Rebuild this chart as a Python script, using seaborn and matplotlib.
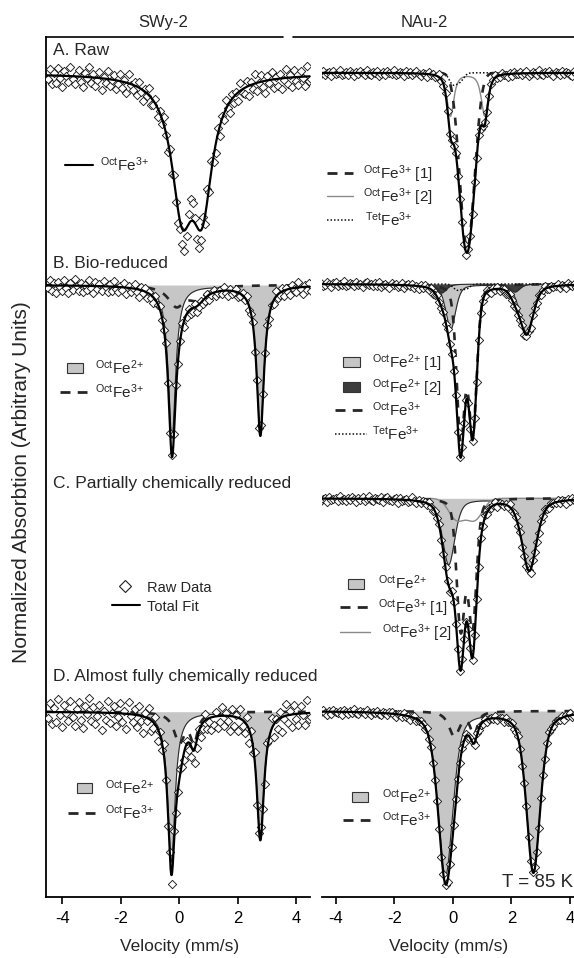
import numpy as np
import matplotlib
matplotlib.use("Agg")
import matplotlib.pyplot as plt
import seaborn as sns
from matplotlib.lines import Line2D
from matplotlib.patches import Rectangle

# ---------------- data ----------------
# Each fitted component: (line positions mm/s, half widths mm/s, depths arb., Lorentzian fraction)
SWY_RAW_OCT3 = ([0.09, 0.78], [0.43, 0.43], [121, 121], 1.0)

SWY_BIO_FE2 = ([-0.25, 2.77], [0.15, 0.15], [153, 150], 1.0)
SWY_BIO_OCT3 = ([-0.10, 0.60], [0.35, 0.35], [20, 12], 1.0)

SWY_CHEM_FE2 = ([-0.27, 2.77], [0.15, 0.15], [150, 128], 1.0)
SWY_CHEM_OCT3 = ([0.00, 0.50], [0.22, 0.15], [30, 28], 1.0)

NAU_RAW_OCT3_1 = ([0.38, 0.60], [0.26, 0.26], [99, 99], 0.0)
NAU_RAW_OCT3_2 = ([-0.08, 1.09], [0.14, 0.14], [43, 43], 0.8)
NAU_RAW_TET3 = ([0.00, 0.25], [0.15, 0.15], [11, 8], 0.0)

NAU_BIO_FE2_1 = ([-0.07, 2.52], [0.20, 0.27], [45, 49], 0.5)
NAU_BIO_FE2_2 = ([-0.39, 2.12], [0.20, 0.20], [9, 8], 0.5)
NAU_BIO_OCT3 = ([0.27, 0.68], [0.165, 0.165], [151, 145], 0.3)
NAU_BIO_TET3 = ([0.15, 0.45], [0.15, 0.15], [6, 5], 0.0)

NAU_PART_FE2 = ([-0.14, 2.61], [0.25, 0.30], [66, 72], 0.5)
NAU_PART_OCT3_1 = ([0.27, 0.67], [0.165, 0.165], [128, 126], 0.3)
NAU_PART_OCT3_2 = ([0.13, 0.75], [0.32, 0.32], [21, 21], 0.0)

NAU_CHEM_FE2 = ([-0.25, 2.75], [0.30, 0.28], [164, 161], 0.5)
NAU_CHEM_OCT3 = ([0.05, 0.72], [0.22, 0.15], [25, 22], 0.8)

# raw data: deviation of each channel from the total fit (arb., positive = more absorption)
SWY_RAW_RES = [4, -6, 9, -3, 7, -8, 2, 11, -5, 0, 6, -9, 3, 8, -2, -7,
               5, 10, -4, 1, -10, 6, -3, 8, 2, -6, 12, -1, 4, -8, 7, 0,
               -5, 9, 3, -7, 6, -2, 10, -9, 1, 5, -4, 8, -6, 3, 11, -3,
               2, -8, 7, 4, -5, 9, -1, 6, -7, 3, 10, -4, 8, -6, 5, 12,
               6, 15, 20, 8, -10, -22, -18, -5, 12, 18, 10, -8, 9, -12, 7, -9,
               5, 8, -7, 10, -4, 6, -9, 3, 11, -5, 7, -2, 9, -8, 4, 6,
               -6, 10, -3, 5, -9, 8, 1, -7, 6, 12, -4, 3, -8, 9, -2, 7,
               -5, 11, 2, -9, 6, -3, 10, -7, 4, 8, -6, 1, 9, -10, 5, 3]
SWY_BIO_RES = [3, -5, 6, -2, 8, -4, 1, 5, -6, 2, 7, -3, 4, -7, 0, 5,
               -3, 6, -1, 4, -6, 2, 7, -4, 3, -2, 5, -5, 1, 6, -3, 4,
               -6, 2, 5, -1, 3, -4, 6, -2, 4, 0, -5, 3, 7, -3, 2, -4,
               5, -2, 3, 6, -4, 1, -3, 4, 2, -5, 3, 5, -2, 4, -3, 6,
               2, -4, 8, 3, -2, 5, 4, -3, 6, 2, -1, 4, 3, -2, 5, 1,
               -3, 4, 2, -1, 3, -4, 2, 5, -2, 3, 1, -3, 4, 2, -2, 3,
               -4, 5, 1, -3, 6, -2, 3, -5, 4, 2, -3, 5, -1, 4, -6, 3,
               2, -4, 5, -2, 3, 6, -3, 1, 4, -5, 2, 7, -2, 3, -4, 5]
SWY_CHEM_RES = [6, -9, 12, -4, 10, -13, 3, 15, -7, 1, 9, -11, 5, 14, -3, -10,
                8, 16, -6, 2, -14, 9, -5, 11, 3, -8, 17, -2, 7, -12, 10, 0,
                -7, 13, 4, -10, 9, -3, 15, -12, 2, 8, -6, 12, -9, 5, 16, -4,
                3, -11, 10, 6, -8, 13, -2, 9, -10, 4, 14, -6, 11, -9, 7, 5,
                -4, 6, 10, -3, 8, 12, -5, 14, 9, -2, 11, 7, -6, 10, 4, 13,
                8, -4, 12, 6, -9, 10, -3, 5, 15, -7, 9, -2, 13, -10, 6, 11,
                -8, 14, -4, 7, -12, 11, 2, -9, 8, 16, -5, 4, -11, 12, -3, 9,
                -6, 15, 3, -12, 8, -4, 13, -9, 5, 11, -8, 2, 12, -13, 6, 4]
NAU_RAW_RES = [1, -2, 2, 0, -1, 3, -2, 1, 0, -3, 2, 1, -1, 2, -2, 0,
               3, -1, 1, -2, 0, 2, -3, 1, 2, -1, 0, -2, 3, 1, -1, 2,
               -2, 0, 1, -3, 2, 1, -1, 0, 3, -2, 1, -1, 2, 0, -2, 1,
               2, -1, 0, 3, -2, 1, -1, 2, 0, -3, 1, 2, -1, 0, 2, -2,
               1, -1, 2, 0, -2, 1, 3, -1, 0, 2, -2, 1, -1, 3, 0, -2,
               2, 1, -1, 0, -3, 2, 1, -2, 0, 1, 3, -1, 2, -2, 0, 1,
               -1, 2, 0, -2, 3, 1, -1, 0, 2, -3, 1, 2, -1, 0, -2, 1,
               3, -1, 0, 2, -2, 1, -1, 0, 2, 3, -2, 1, 0, -1, 2, -2]
NAU_BIO_RES = [-1, 2, 1, -2, 0, 3, -1, -2, 2, 0, 1, -3, 2, 1, -1, 0,
               2, -2, 1, 0, 3, -1, -2, 1, 0, 2, -1, 1, -3, 2, 0, -1,
               1, 3, -2, 0, -1, 2, 1, -2, 3, 0, -1, 1, -2, 2, 0, 3,
               -1, 1, -2, 0, 2, -1, 3, 1, -2, 0, 1, -1, 2, -3, 1, 0,
               2, -1, 0, 1, -2, 3, 0, -1, 2, 1, -3, 2, 0, -1, 1, 2,
               -2, 0, 3, -1, 1, -2, 2, 0, -1, 3, 1, -2, 0, 2, -1, 1,
               0, -2, 2, 1, -1, 3, -2, 0, 1, -1, 2, 0, -3, 1, 2, -1,
               1, 0, -2, 2, -1, 1, 3, -2, 0, 1, -1, 2, 0, -2, 1, 3]
NAU_PART_RES = [2, 0, -1, 3, -2, 1, 0, -1, 2, -3, 1, 0, 2, -1, 1, -2,
                0, 3, -1, 1, -2, 2, 0, -3, 1, 2, -1, 0, 1, -2, 3, -1,
                -2, 1, 2, 0, -1, 3, -2, 1, 0, -1, 2, 1, -3, 0, 2, -1,
                1, -1, 0, 2, -2, 1, 3, -1, 0, -2, 2, 1, -1, 0, 3, -2,
                0, 2, -1, 1, -3, 2, 0, 1, -1, 2, -2, 0, 3, -1, 1, -2,
                2, -1, 1, 0, -2, 3, -1, 0, 2, -1, 1, -3, 2, 0, -1, 1,
                -2, 2, 0, 1, -1, 3, -2, 0, 1, 2, -1, 0, -2, 1, 3, -1,
                0, 1, -2, 2, -1, 0, 3, -1, 1, -2, 0, 2, -1, 1, -3, 2]
NAU_CHEM_RES = [0, -2, 1, 3, -1, 2, -2, 0, 1, -1, 3, -2, 0, 2, -1, 1,
                -3, 1, 2, -1, 0, 2, -2, 1, 3, -1, 0, -2, 1, 2, -1, 0,
                2, -1, -2, 1, 3, 0, -1, 2, -2, 1, 0, 3, -1, -2, 2, 1,
                -1, 0, 2, -3, 1, -1, 2, 0, -2, 1, 3, -1, 0, 2, -2, 1,
                1, -2, 0, 2, -1, 3, -2, 1, 0, -1, 2, -3, 1, 0, 2, -1,
                3, 0, -1, 1, -2, 2, 0, -1, 3, -2, 1, 0, -1, 2, 1, -2,
                0, 2, -1, -3, 1, 2, 0, -2, 1, 3, -1, 0, 2, -1, -2, 1,
                2, -1, 0, 1, -2, 3, -1, 0, -2, 2, 1, -1, 0, 3, -2, 1]

COLUMN_TITLES = ["SWy-2", "NAu-2"]
PANEL_TITLES = ["A. Raw", "B. Bio-reduced", "C. Partially chemically reduced",
                "D. Almost fully chemically reduced"]
X_TICKS = [-4, -2, 0, 2, 4]
OCT3 = r"$^{Oct}$Fe$^{3{+}}$"
OCT2 = r"$^{Oct}$Fe$^{2{+}}$"
TET3 = r"$^{Tet}$Fe$^{3{+}}$"

# ---------------- style ----------------
sns.set_style("white")
plt.rcParams["font.family"] = ["Liberation Sans", "DejaVu Sans"]
plt.rcParams["mathtext.fontset"] = "custom"
plt.rcParams["mathtext.rm"] = "Liberation Sans"
plt.rcParams["mathtext.it"] = "Liberation Sans:italic"
plt.rcParams["mathtext.bf"] = "Liberation Sans:bold"
plt.rcParams["mathtext.default"] = "regular"
plt.rcParams["axes.unicode_minus"] = False
plt.rcParams["axes.edgecolor"] = "black"

W, H = 574, 958
fig = plt.figure(figsize=(W / 100, H / 100), dpi=100)


def fx(x):
    return x / W


def fy(y):
    return 1 - y / H


AX_TOP, AX_BOT = 37, 897
axL = fig.add_axes([fx(46), fy(AX_BOT), (310 - 46) / W, (AX_BOT - AX_TOP) / H])
axR = fig.add_axes([fx(321.7), fy(AX_BOT), (574 - 321.7) / W, (AX_BOT - AX_TOP) / H])
axL.set_xlim(-4.557, 4.468)
axR.set_xlim(-4.476, 4.138)

FILL = {"light": "#c6c6c6", "dark": "#3d3d3d"}
DASH_LS = (0, (3.0, 3.4))
DOT_LS = (0, (1.0, 1.3))

v_fine = np.linspace(-4.6, 4.6, 1500)


def profile(v, comp):
    pos, hw, dep, eta = comp
    out = np.zeros_like(v, dtype=float)
    for p, w, d in zip(pos, hw, dep):
        x = (v - p) / w
        out += d * (eta / (1 + x ** 2) + (1 - eta) * np.exp(-np.log(2) * x ** 2))
    return out


def draw_panel(ax, base_px, comps, resid):
    base = AX_BOT - base_px
    total = sum(profile(v_fine, c) for c, s in comps)
    for c, s in comps:
        prof = profile(v_fine, c)
        if s in ("light", "dark"):
            ax.fill_between(v_fine, base, base - prof, color=FILL[s], lw=0,
                            zorder=1 if s == "light" else 1.5)
            sns.lineplot(x=v_fine, y=base - prof, ax=ax, color="#2a2a2a", lw=0.8,
                         estimator=None, sort=False, zorder=1.6)
        elif s == "dash":
            sns.lineplot(x=v_fine, y=base - prof, ax=ax, color="#262626", lw=1.9,
                         linestyle=DASH_LS, estimator=None, sort=False, zorder=2.5)
        elif s == "thin":
            sns.lineplot(x=v_fine, y=base - prof, ax=ax, color="#8a8a8a", lw=1.0,
                         estimator=None, sort=False, zorder=2.4)
        elif s == "dot":
            sns.lineplot(x=v_fine, y=base - prof, ax=ax, color="#111111", lw=1.1,
                         linestyle=DOT_LS, estimator=None, sort=False, zorder=2.6)
    v_ch = np.linspace(-4.5, 4.5, len(resid))
    tot_ch = sum(profile(v_ch, c) for c, s in comps)
    y_ch = base - tot_ch - np.asarray(resid, dtype=float)
    sns.scatterplot(x=v_ch, y=y_ch, ax=ax, marker="D", s=18, color="white",
                    edgecolor="#1e1e1e", linewidth=0.65, zorder=3, legend=False)
    sns.lineplot(x=v_fine, y=base - total, ax=ax, color="black", lw=1.6,
                 estimator=None, sort=False, zorder=4)


# left column (SWy-2)
draw_panel(axL, 73.5, [(SWY_RAW_OCT3, "none")], SWY_RAW_RES)
draw_panel(axL, 285, [(SWY_BIO_FE2, "light"), (SWY_BIO_OCT3, "dash")], SWY_BIO_RES)
draw_panel(axL, 711.7, [(SWY_CHEM_FE2, "light"), (SWY_CHEM_OCT3, "dash")], SWY_CHEM_RES)

# right column (NAu-2)
draw_panel(axR, 72.8, [(NAU_RAW_OCT3_1, "dash"), (NAU_RAW_OCT3_2, "thin"),
                       (NAU_RAW_TET3, "dot")], NAU_RAW_RES)
draw_panel(axR, 284, [(NAU_BIO_FE2_1, "light"), (NAU_BIO_FE2_2, "dark"),
                      (NAU_BIO_OCT3, "dash"), (NAU_BIO_TET3, "dot")], NAU_BIO_RES)
draw_panel(axR, 498.3, [(NAU_PART_FE2, "light"), (NAU_PART_OCT3_1, "dash"),
                        (NAU_PART_OCT3_2, "thin")], NAU_PART_RES)
draw_panel(axR, 711, [(NAU_CHEM_FE2, "light"), (NAU_CHEM_OCT3, "dash")], NAU_CHEM_RES)

for ax in (axL, axR):
    ax.set_ylim(0, AX_BOT - AX_TOP)
    ax.set_yticks([])
    ax.set_xticks(X_TICKS)
    ax.set_xticklabels([str(t) for t in X_TICKS])
    ax.tick_params(axis="x", direction="out", length=5, width=1.2, labelsize=12,
                   pad=5, colors="black", bottom=True)
    ax.spines["top"].set_visible(False)
    ax.spines["right"].set_visible(False)
    ax.spines["bottom"].set_linewidth(1.3)
    ax.set_xlabel("")
    ax.set_ylabel("")
    ax.patch.set_alpha(0)
axL.spines["left"].set_linewidth(1.3)
axR.spines["left"].set_visible(False)

# header
fig.add_artist(Line2D([fx(46), fx(283)], [fy(AX_TOP)] * 2, color="black", lw=1.2))
fig.add_artist(Line2D([fx(293), fx(574)], [fy(AX_TOP)] * 2, color="black", lw=1.2))
fig.text(fx(163), fy(22.5), COLUMN_TITLES[0], fontsize=12, ha="center", va="center")
fig.text(fx(424), fy(22.5), COLUMN_TITLES[1], fontsize=12, ha="center", va="center")

for title, ybase in zip(PANEL_TITLES, [55, 268, 488, 681]):
    fig.text(fx(53), fy(ybase), title, fontsize=12.5, va="baseline", ha="left")

fig.text(fx(22), fy(482), "Normalized Absorbtion (Arbitrary Units)", rotation=90,
         fontsize=15, ha="center", va="center")
fig.text(fx(179.5), fy(947), "Velocity (mm/s)", fontsize=12.5, ha="center", va="center")
fig.text(fx(449), fy(947), "Velocity (mm/s)", fontsize=12.5, ha="center", va="center")
fig.text(fx(573), fy(887), "T = 85 K", fontsize=13.5, ha="right", va="baseline")


def legend_entry(kind, x0, x1, yc, tx, label, fs=11):
    if kind == "solid":
        fig.add_artist(Line2D([fx(x0), fx(x1)], [fy(yc)] * 2, color="black", lw=1.5))
    elif kind == "dash":
        fig.add_artist(Line2D([fx(x0), fx(x1)], [fy(yc)] * 2, color="#262626", lw=2.0,
                              linestyle=(0, (3.6, 2.6))))
    elif kind == "thin":
        fig.add_artist(Line2D([fx(x0), fx(x1)], [fy(yc)] * 2, color="#8a8a8a", lw=1.0))
    elif kind == "dot":
        fig.add_artist(Line2D([fx(x0), fx(x1)], [fy(yc)] * 2, color="#111111", lw=1.1,
                              linestyle=DOT_LS))
    elif kind in ("light", "dark"):
        fig.add_artist(Rectangle((fx(x0), fy(yc + 5)), fx(x1) - fx(x0), 10 / H,
                                 facecolor=FILL[kind], edgecolor="#333333", lw=0.8,
                                 transform=fig.transFigure))
    elif kind == "diamond":
        fig.add_artist(Line2D([fx((x0 + x1) / 2)], [fy(yc)], marker="D", ms=6,
                              mfc="white", mec="#1e1e1e", mew=0.8, ls="none"))
    fig.text(fx(tx), fy(yc + 6), label, fontsize=fs, va="baseline", ha="left")


LEGENDS = [
    ("solid", 65, 93, 165, 100, OCT3),
    ("dash", 327, 353, 172.7, 363, OCT3 + " [1]"),
    ("thin", 327, 353, 196, 363, OCT3 + " [2]"),
    ("dot", 327, 353, 220, 365, TET3),
    ("light", 67, 83, 368, 95, OCT2),
    ("dash", 60, 87, 392, 95, OCT3),
    ("light", 343, 360, 362, 372, OCT2 + " [1]"),
    ("dark", 343, 360, 387, 372, OCT2 + " [2]"),
    ("dash", 335, 362, 410, 372, OCT3),
    ("dot", 335, 367, 434, 372, TET3),
    ("diamond", 120, 130, 586, 147, "Raw Data"),
    ("solid", 112, 140, 605, 147, "Total Fit"),
    ("light", 348, 364, 583.5, 378, OCT2),
    ("dash", 340, 368, 607, 378, OCT3 + " [1]"),
    ("thin", 340, 370, 632, 382, OCT3 + " [2]"),
    ("light", 77, 92, 788, 105, OCT2),
    ("dash", 68, 95, 813, 105, OCT3),
    ("light", 352, 368, 797, 382, OCT2),
    ("dash", 343, 370, 820, 382, OCT3),
]
for entry in LEGENDS:
    legend_entry(*entry, fs=(10.5 if entry[5] in ("Raw Data", "Total Fit") else 11))

fig.savefig("out.png", dpi=100)
